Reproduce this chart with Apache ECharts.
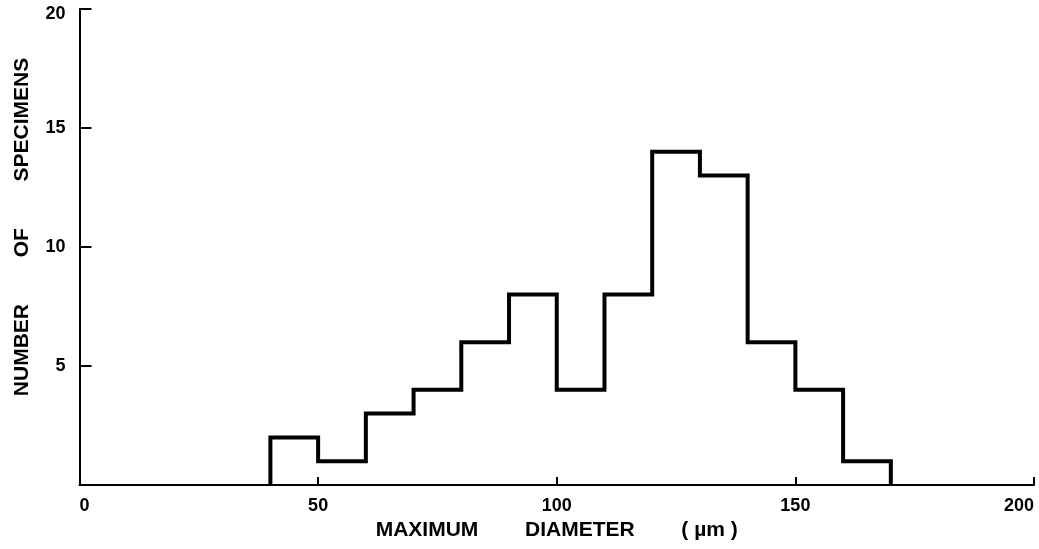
<!DOCTYPE html>
<html>
<head>
<meta charset="utf-8">
<script src="https://cdn.jsdelivr.net/npm/echarts@6/dist/echarts.min.js"></script>
<style>
html,body{margin:0;padding:0;background:#fff;}
#chart{width:1039px;height:549px;}
</style>
</head>
<body>
<div id="chart"></div>
<script>
// Histogram bins (µm) and counts
var binEdges = [40, 50, 60, 70, 80, 90, 100, 110, 120, 130, 140, 150, 160, 170];
var counts = [2, 1, 3, 4, 6, 8, 4, 8, 14, 13, 6, 4, 1];
var xTicks = [0, 50, 100, 150, 200];
var yTicks = [0, 5, 10, 15, 20];
var xName = 'MAXIMUM        DIAMETER        ( µm )';
var yName = 'NUMBER        OF        SPECIMENS';

var outline = [[binEdges[0], 0]];
counts.forEach(function (c, i) { outline.push([binEdges[i], c]); });
outline.push([binEdges[binEdges.length - 1], 0]);

var font = "'Liberation Sans', Arial, sans-serif";
var chart = echarts.init(document.getElementById('chart'), null, {renderer: 'canvas'});
chart.setOption({
  backgroundColor: '#fff',
  animation: false,
  grid: {left: 79.5, right: 5, top: 9, bottom: 64, containLabel: false},
  xAxis: {
    type: 'value', min: xTicks[0], max: xTicks[xTicks.length - 1], interval: 50,
    name: xName, nameLocation: 'middle', nameGap: 35,
    nameTextStyle: {fontFamily: font, fontWeight: 'bold', fontSize: 21, color: '#000'},
    axisLine: {show: true, lineStyle: {color: '#000', width: 2}},
    axisTick: {show: true, inside: true, length: 8, lineStyle: {color: '#000', width: 2}},
    axisLabel: {fontFamily: font, fontWeight: 'bold', fontSize: 18, color: '#000', margin: 12,
      alignMinLabel: 'left', alignMaxLabel: 'right'},
    splitLine: {show: false}
  },
  yAxis: {
    type: 'value', min: yTicks[0], max: yTicks[yTicks.length - 1], interval: 5,
    name: yName, nameLocation: 'middle', nameGap: 47,
    nameTextStyle: {fontFamily: font, fontWeight: 'bold', fontSize: 21, color: '#000', padding: [0, 0, 0, 40]},
    axisLine: {show: true, lineStyle: {color: '#000', width: 2}},
    axisTick: {show: true, inside: true, length: 12, lineStyle: {color: '#000', width: 2}},
    axisLabel: {fontFamily: font, fontWeight: 'bold', fontSize: 18, color: '#000', margin: 14,
      formatter: function (v) {
        if (v === 0) return '';
        if (v === yTicks[yTicks.length - 1]) return '{top|' + v + '}';
        return String(v);
      },
      rich: {top: {fontFamily: font, fontWeight: 'bold', fontSize: 18, color: '#000', padding: [10, 0, 0, 0]}}},
    splitLine: {show: false}
  },
  series: [{
    type: 'line', step: 'end', data: outline, symbol: 'none',
    lineStyle: {color: '#000', width: 4, join: 'miter'}
  }]
});
</script>
</body>
</html>
